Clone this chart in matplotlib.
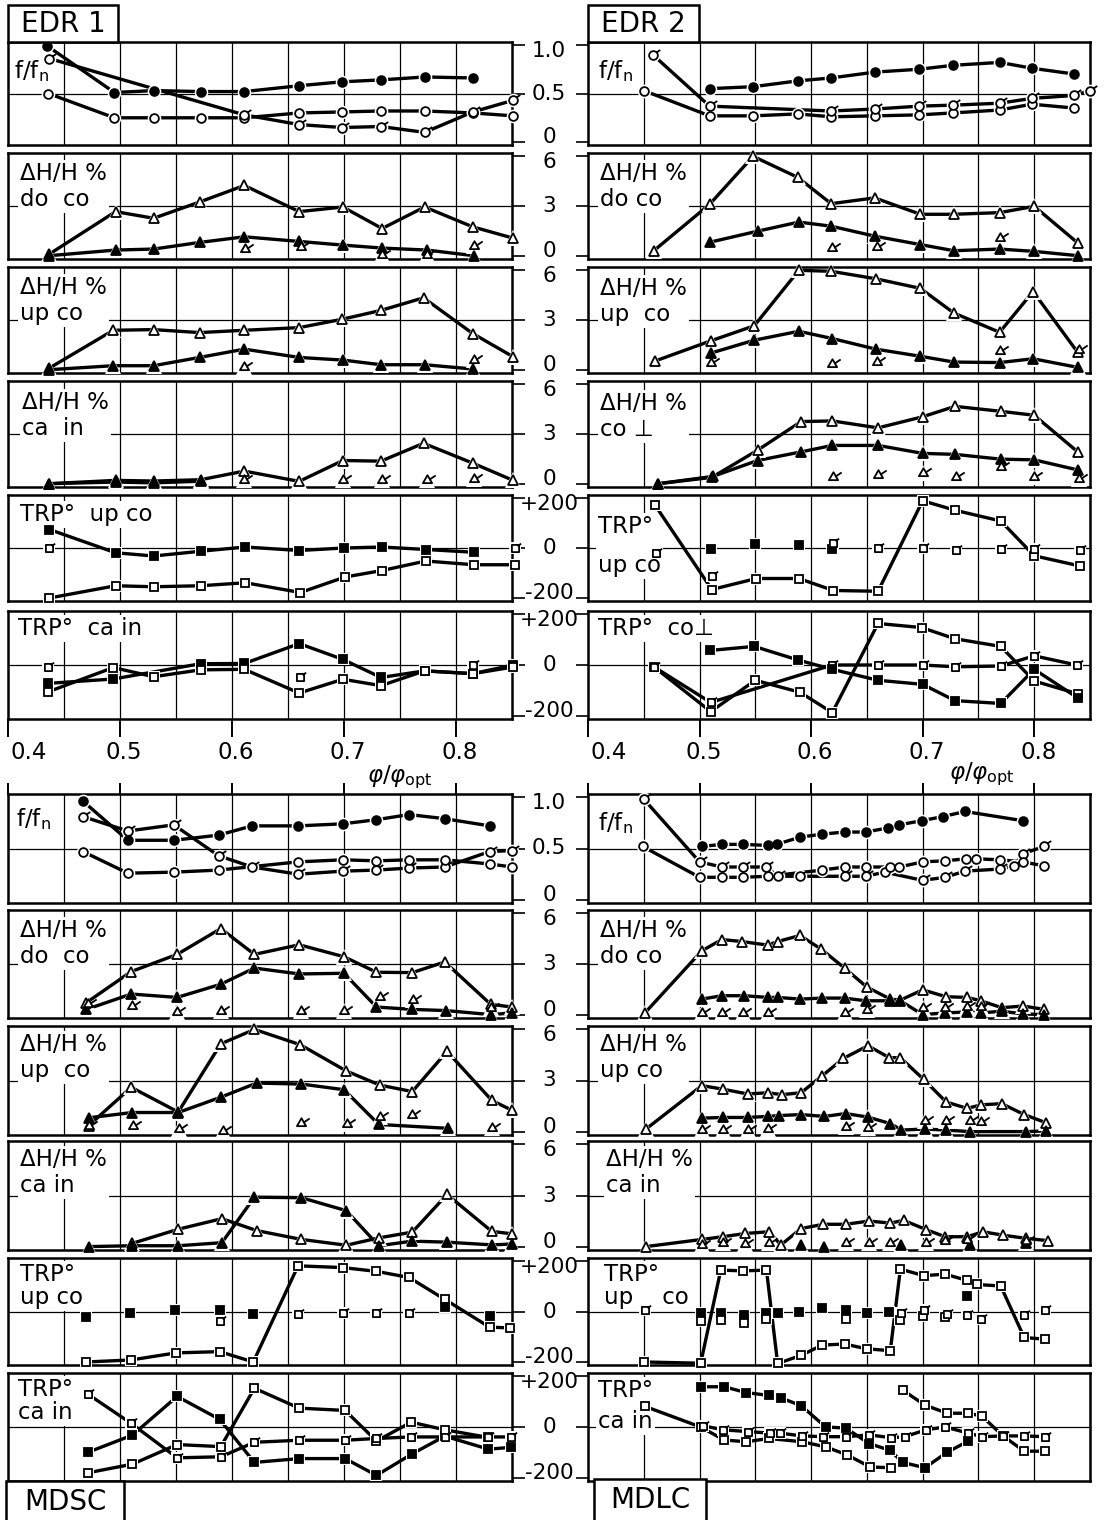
'''
Stacked response panels for EDR 1, EDR 2, MDSC and MDLC versus phi/phi_opt.
'''
import matplotlib
matplotlib.use('Agg')
import matplotlib.pyplot as plt
from matplotlib.path import Path
from matplotlib.patches import Rectangle

# ---------------- data ----------------
# EDR 1
e1_ff_dot_x = [0.435, 0.495, 0.530, 0.572, 0.611, 0.660, 0.698, 0.733, 0.772, 0.815]
e1_ff_dot_y = [0.99, 0.51, 0.53, 0.52, 0.52, 0.58, 0.62, 0.64, 0.67, 0.66]
e1_ff_ring_x = [0.436, 0.495, 0.530, 0.572, 0.611, 0.660, 0.698, 0.733, 0.772, 0.815, 0.851]
e1_ff_ring_y = [0.50, 0.25, 0.25, 0.25, 0.25, 0.30, 0.31, 0.32, 0.32, 0.30, 0.27]
e1_ff_flag_x = [0.437, 0.611, 0.660, 0.698, 0.733, 0.772, 0.815, 0.851]
e1_ff_flag_y = [0.86, 0.28, 0.18, 0.15, 0.16, 0.10, 0.31, 0.43]

e1_do_open_x = [0.437, 0.496, 0.530, 0.571, 0.611, 0.660, 0.699, 0.734, 0.772, 0.815, 0.851]
e1_do_open_y = [0.1, 2.66, 2.26, 3.24, 4.24, 2.66, 2.94, 1.64, 2.94, 1.74, 1.06]
e1_do_full_x = [0.437, 0.496, 0.530, 0.571, 0.611, 0.660, 0.699, 0.734, 0.774, 0.816]
e1_do_full_y = [0.0, 0.34, 0.40, 0.80, 1.14, 0.86, 0.64, 0.46, 0.34, 0.0]
e1_do_flag_x = [0.612, 0.662, 0.734, 0.774, 0.816]
e1_do_flag_y = [0.4, 0.5, 0.06, 0.06, 0.6]

e1_up_open_x = [0.437, 0.494, 0.530, 0.571, 0.611, 0.660, 0.698, 0.733, 0.771, 0.815, 0.851]
e1_up_open_y = [0.1, 2.38, 2.42, 2.24, 2.38, 2.54, 3.04, 3.58, 4.34, 2.18, 0.78]
e1_up_full_x = [0.437, 0.494, 0.530, 0.571, 0.611, 0.660, 0.699, 0.733, 0.772, 0.815]
e1_up_full_y = [0.0, 0.24, 0.24, 0.74, 1.24, 0.74, 0.58, 0.30, 0.30, 0.04]
e1_up_flag_x = [0.611, 0.816]
e1_up_flag_y = [0.14, 0.58]

e1_ca_open_x = [0.437, 0.496, 0.530, 0.572, 0.611, 0.660, 0.699, 0.733, 0.771, 0.815, 0.851]
e1_ca_open_y = [0.0, 0.2, 0.16, 0.24, 0.76, 0.14, 1.4, 1.36, 2.44, 1.24, 0.2]
e1_ca_full_x = [0.437, 0.496, 0.530, 0.572]
e1_ca_full_y = [0.0, 0.1, 0.05, 0.15]
e1_ca_flag_x = [0.611, 0.699, 0.734, 0.774, 0.816]
e1_ca_flag_y = [0.2, 0.25, 0.2, 0.2, 0.3]

e1_tu_full_x = [0.437, 0.496, 0.530, 0.572, 0.612, 0.660, 0.700, 0.734, 0.773, 0.816]
e1_tu_full_y = [74, -19, -32, -13, 4, -10, 0, 4, -6, -17]
e1_tu_open_x = [0.437, 0.496, 0.530, 0.572, 0.612, 0.661, 0.701, 0.734, 0.773, 0.816, 0.853]
e1_tu_open_y = [-200, -151, -155, -151, -139, -178, -116, -90, -52, -67, -67]
e1_tu_flag_x = [0.437, 0.853]
e1_tu_flag_y = [0, 0]

e1_tc_full_x = [0.436, 0.494, 0.572, 0.611, 0.660, 0.699, 0.733, 0.772, 0.815, 0.851]
e1_tc_full_y = [-72, -55, 5, 6, 84, 22, -49, -23, -34, 0]
e1_tc_open_x = [0.436, 0.494, 0.530, 0.572, 0.611, 0.660, 0.699, 0.733, 0.772, 0.815, 0.851]
e1_tc_open_y = [-105, -10, -46, -19, -17, -110, -56, -81, -23, -34, -8]
e1_tc_flag_x = [0.436, 0.661, 0.815]
e1_tc_flag_y = [-6, -49, 0]

# EDR 2
e2_ff_dot_x = [0.509, 0.548, 0.588, 0.618, 0.657, 0.697, 0.727, 0.769, 0.798, 0.836]
e2_ff_dot_y = [0.55, 0.57, 0.63, 0.66, 0.72, 0.75, 0.79, 0.82, 0.76, 0.70]
e2_ff_ring_x = [0.450, 0.509, 0.548, 0.588, 0.618, 0.657, 0.697, 0.727, 0.769, 0.798, 0.836]
e2_ff_ring_y = [0.53, 0.27, 0.27, 0.29, 0.26, 0.27, 0.28, 0.30, 0.33, 0.39, 0.35]
e2_ff_flag_x = [0.458, 0.509, 0.618, 0.657, 0.697, 0.727, 0.769, 0.798, 0.836, 0.850]
e2_ff_flag_y = [0.90, 0.37, 0.32, 0.34, 0.37, 0.38, 0.40, 0.45, 0.48, 0.53]

e2_do_open_x = [0.459, 0.509, 0.548, 0.588, 0.618, 0.657, 0.698, 0.728, 0.769, 0.800, 0.839]
e2_do_open_y = [0.3, 3.1, 6.0, 4.73, 3.14, 3.49, 2.5, 2.5, 2.6, 2.98, 0.77]
e2_do_full_x = [0.509, 0.552, 0.589, 0.618, 0.657, 0.698, 0.728, 0.769, 0.800, 0.839]
e2_do_full_y = [0.81, 1.48, 2.03, 1.78, 1.18, 0.67, 0.30, 0.40, 0.26, 0.0]
e2_do_flag_x = [0.619, 0.659, 0.769]
e2_do_flag_y = [0.45, 0.5, 1.05]

e2_up_open_x = [0.460, 0.510, 0.549, 0.589, 0.618, 0.658, 0.698, 0.728, 0.769, 0.799, 0.839]
e2_up_open_y = [0.52, 1.74, 2.65, 6.0, 5.94, 5.49, 4.91, 3.42, 2.26, 4.72, 1.04]
e2_up_full_x = [0.510, 0.549, 0.589, 0.619, 0.658, 0.698, 0.728, 0.769, 0.799, 0.839]
e2_up_full_y = [1.0, 1.78, 2.32, 1.88, 1.24, 0.81, 0.46, 0.43, 0.66, 0.14]
e2_up_flag_x = [0.510, 0.619, 0.659, 0.769, 0.840]
e2_up_flag_y = [0.43, 0.33, 0.46, 1.1, 1.2]

e2_cp_open_x = [0.463, 0.511, 0.552, 0.591, 0.619, 0.660, 0.700, 0.729, 0.770, 0.800, 0.839]
e2_cp_open_y = [0.0, 0.38, 2.02, 3.75, 3.79, 3.37, 4.04, 4.67, 4.37, 4.13, 1.92]
e2_cp_full_x = [0.463, 0.512, 0.552, 0.591, 0.619, 0.660, 0.700, 0.729, 0.770, 0.800, 0.839]
e2_cp_full_y = [0.0, 0.44, 1.4, 1.92, 2.31, 2.31, 1.83, 1.77, 1.48, 1.44, 0.83]
e2_cp_flag_x = [0.620, 0.660, 0.700, 0.730, 0.770, 0.800, 0.840]
e2_cp_flag_y = [0.38, 0.52, 0.63, 0.42, 1.02, 0.42, 0.29]

e2_tu_open_x = [0.460, 0.511, 0.551, 0.589, 0.620, 0.660, 0.700, 0.729, 0.770, 0.800, 0.841]
e2_tu_open_y = [172, -166, -122, -122, -170, -173, 189, 151, 108, -31, -72]
e2_tu_full_x = [0.510, 0.550, 0.589, 0.619]
e2_tu_full_y = [-4, 16, 14, -4]
e2_tu_flag_x = [0.461, 0.511, 0.620, 0.660, 0.700, 0.730, 0.770, 0.800, 0.841]
e2_tu_flag_y = [-20, -112, 20, 0, 0, -8, -4, -4, -8]

e2_tc_open_x = [0.459, 0.510, 0.550, 0.590, 0.619, 0.660, 0.699, 0.729, 0.770, 0.800, 0.839]
e2_tc_open_y = [-7, -183, -60, -107, -187, 163, 147, 103, 73, -63, -113]
e2_tc_flag_x = [0.459, 0.510, 0.619, 0.660, 0.700, 0.729, 0.770, 0.800, 0.838]
e2_tc_flag_y = [-7, -147, 0, 0, 0, -7, -4, 36, 0]
e2_tc_full_x = [0.509, 0.549, 0.588, 0.619, 0.660, 0.700, 0.729, 0.770, 0.800, 0.839]
e2_tc_full_y = [57, 73, 20, -17, -60, -76, -140, -151, -17, -129]

# MDSC
sc_ff_dot_x = [0.467, 0.507, 0.548, 0.588, 0.618, 0.659, 0.699, 0.729, 0.758, 0.790, 0.830]
sc_ff_dot_y = [0.96, 0.58, 0.58, 0.63, 0.72, 0.72, 0.74, 0.78, 0.83, 0.79, 0.72]
sc_ff_flag_x = [0.467, 0.507, 0.548, 0.588, 0.618, 0.659, 0.699, 0.729, 0.758, 0.790, 0.830, 0.850]
sc_ff_flag_y = [0.81, 0.67, 0.73, 0.43, 0.32, 0.25, 0.28, 0.29, 0.31, 0.32, 0.47, 0.48]
sc_ff_ring_x = [0.467, 0.507, 0.548, 0.588, 0.659, 0.699, 0.729, 0.758, 0.790, 0.830, 0.850]
sc_ff_ring_y = [0.47, 0.26, 0.27, 0.29, 0.37, 0.39, 0.38, 0.39, 0.39, 0.35, 0.32]

sc_do_open_x = [0.470, 0.510, 0.551, 0.590, 0.620, 0.660, 0.700, 0.729, 0.761, 0.790, 0.831, 0.850]
sc_do_open_y = [0.71, 2.55, 3.57, 5.1, 3.57, 4.14, 3.43, 2.51, 2.49, 3.12, 0.61, 0.45]
sc_do_full_x = [0.470, 0.510, 0.551, 0.590, 0.620, 0.660, 0.700, 0.729, 0.761, 0.791, 0.831, 0.850]
sc_do_full_y = [0.31, 1.22, 1.02, 1.8, 2.76, 2.41, 2.45, 0.45, 0.31, 0.24, 0.0, 0.1]
sc_do_flag_x = [0.471, 0.511, 0.551, 0.590, 0.662, 0.700, 0.732, 0.762, 0.831]
sc_do_flag_y = [0.61, 0.51, 0.14, 0.2, 0.2, 0.24, 1.02, 0.86, 0.41]

sc_up_open_x = [0.472, 0.510, 0.552, 0.590, 0.620, 0.661, 0.702, 0.732, 0.761, 0.792, 0.832, 0.850]
sc_up_open_y = [0.35, 2.6, 1.15, 5.15, 6.0, 5.1, 3.56, 2.73, 2.35, 4.71, 1.83, 1.25]
sc_up_full_x = [0.472, 0.511, 0.552, 0.590, 0.622, 0.662, 0.700, 0.731, 0.793]
sc_up_full_y = [0.81, 1.12, 1.12, 2.02, 2.85, 2.79, 2.46, 0.42, 0.19]
sc_up_flag_x = [0.472, 0.512, 0.553, 0.592, 0.662, 0.703, 0.732, 0.761, 0.832]
sc_up_flag_y = [0.35, 0.35, 0.15, 0.04, 0.48, 0.42, 0.87, 0.96, 0.19]

sc_ca_open_x = [0.511, 0.552, 0.591, 0.622, 0.662, 0.702, 0.731, 0.761, 0.792, 0.832, 0.850]
sc_ca_open_y = [0.19, 1.02, 1.64, 0.94, 0.42, 0.08, 0.51, 0.85, 3.06, 0.89, 0.75]
sc_ca_full_x = [0.472, 0.511, 0.552, 0.591, 0.620, 0.662, 0.702, 0.731, 0.761, 0.792, 0.832, 0.850]
sc_ca_full_y = [0.0, 0.05, 0.05, 0.23, 2.9, 2.87, 2.11, 0.05, 0.32, 0.26, 0.1, 0.15]

sc_tu_open_x = [0.470, 0.510, 0.550, 0.589, 0.619, 0.659, 0.699, 0.729, 0.758, 0.790, 0.830, 0.848]
sc_tu_open_y = [-200, -192, -164, -159, -200, 181, 174, 159, 135, 48, -62, -65]
sc_tu_full_x = [0.470, 0.509, 0.549, 0.589, 0.619, 0.790, 0.830]
sc_tu_full_y = [-21, -7, 7, 4, -10, 18, -17]
sc_tu_flag_x = [0.589, 0.659, 0.699, 0.729, 0.758]
sc_tu_flag_y = [-37, -10, -7, -7, -7]

sc_tc_full_x = [0.471, 0.511, 0.551, 0.589, 0.620, 0.660, 0.701, 0.729, 0.761, 0.790, 0.829, 0.849]
sc_tc_full_y = [-100, -32, 120, 30, -139, -124, -124, -190, -105, -36, -87, -80]
sc_tc_open_x = [0.471, 0.511, 0.551, 0.590, 0.620, 0.660, 0.701, 0.729, 0.760, 0.790, 0.829]
sc_tc_open_y = [-180, -146, -69, -77, 152, 74, 65, -55, 19, -11, -41]
sc_tc_flag_x = [0.471, 0.510, 0.551, 0.590, 0.620, 0.660, 0.701, 0.729, 0.760, 0.790, 0.829, 0.849]
sc_tc_flag_y = [130, 14, -121, -117, -60, -52, -52, -45, -39, -39, -39, -39]

# MDLC
lc_ff_dot_x = [0.502, 0.520, 0.539, 0.561, 0.569, 0.590, 0.610, 0.630, 0.649, 0.669, 0.679,
               0.699, 0.718, 0.738, 0.790]
lc_ff_dot_y = [0.52, 0.54, 0.54, 0.53, 0.54, 0.61, 0.64, 0.66, 0.66, 0.70, 0.73,
               0.77, 0.81, 0.86, 0.77]
lc_ff_flag_x = [0.450, 0.500, 0.520, 0.539, 0.560, 0.570, 0.590, 0.630, 0.649, 0.666, 0.700,
                0.720, 0.738, 0.769, 0.782, 0.790, 0.809]
lc_ff_flag_y = [0.98, 0.37, 0.32, 0.32, 0.32, 0.23, 0.23, 0.23, 0.23, 0.27, 0.19,
                0.22, 0.28, 0.30, 0.33, 0.45, 0.52]
lc_ff_ring_x = [0.449, 0.500, 0.520, 0.539, 0.561, 0.610, 0.630, 0.649, 0.671, 0.679, 0.700,
                0.720, 0.739, 0.748, 0.769, 0.790, 0.809]
lc_ff_ring_y = [0.52, 0.22, 0.22, 0.22, 0.23, 0.29, 0.32, 0.32, 0.32, 0.32, 0.37,
                0.38, 0.40, 0.40, 0.39, 0.37, 0.33]

lc_do_open_x = [0.451, 0.502, 0.520, 0.538, 0.561, 0.570, 0.590, 0.609, 0.630, 0.650, 0.671,
                0.680, 0.700, 0.721, 0.740, 0.752, 0.771, 0.790, 0.809]
lc_do_open_y = [0.1, 3.78, 4.45, 4.33, 4.12, 4.33, 4.69, 3.88, 2.76, 1.63, 0.92,
                0.86, 1.47, 1.06, 1.02, 0.82, 0.41, 0.51, 0.31]
lc_do_full_x = [0.502, 0.520, 0.540, 0.561, 0.570, 0.590, 0.610, 0.630, 0.649, 0.671, 0.680,
                0.700, 0.720, 0.740, 0.752, 0.771, 0.790, 0.809]
lc_do_full_y = [0.92, 1.12, 1.12, 1.02, 1.02, 0.92, 0.98, 0.98, 0.82, 0.82, 0.82,
                0.0, 0.1, 0.16, 0.1, 0.2, 0.04, 0.0]
lc_do_flag_x = [0.502, 0.520, 0.539, 0.561, 0.630, 0.650, 0.700, 0.720, 0.740, 0.752]
lc_do_flag_y = [0.1, 0.1, 0.1, 0.1, 0.1, 0.25, 0.4, 0.4, 0.45, 0.45]

lc_up_open_x = [0.452, 0.502, 0.521, 0.543, 0.561, 0.574, 0.591, 0.610, 0.629, 0.651, 0.670,
                0.680, 0.701, 0.721, 0.740, 0.752, 0.771, 0.791, 0.811]
lc_up_open_y = [0.15, 2.7, 2.49, 2.21, 2.28, 2.17, 2.28, 3.28, 4.3, 5.04, 4.34,
                4.34, 3.06, 1.74, 1.36, 1.57, 1.64, 1.0, 0.51]
lc_up_full_x = [0.502, 0.521, 0.543, 0.561, 0.571, 0.591, 0.612, 0.631, 0.651, 0.671, 0.681,
                0.702, 0.721, 0.742, 0.793, 0.811]
lc_up_full_y = [0.79, 0.83, 0.83, 0.89, 0.94, 1.0, 0.89, 1.06, 0.85, 0.47, 0.09,
                0.15, 0.09, 0.0, 0.0, 0.04]
lc_up_flag_x = [0.502, 0.521, 0.543, 0.561, 0.631, 0.651, 0.702, 0.721, 0.742, 0.752]
lc_up_flag_y = [0.1, 0.1, 0.1, 0.15, 0.25, 0.2, 0.6, 0.6, 0.6, 0.55]

lc_ca_open_x = [0.452, 0.502, 0.521, 0.541, 0.562, 0.573, 0.591, 0.611, 0.631, 0.652, 0.671,
                0.683, 0.703, 0.720, 0.740, 0.754, 0.772, 0.793, 0.812]
lc_ca_open_y = [0.0, 0.42, 0.58, 0.77, 0.87, 0.1, 1.06, 1.31, 1.31, 1.5, 1.38,
                1.54, 1.0, 0.58, 0.58, 0.87, 0.67, 0.48, 0.35]
lc_ca_full_x = [0.591, 0.612, 0.681, 0.742, 0.793]
lc_ca_full_y = [0.1, 0.0, 0.1, 0.1, 0.2]
lc_ca_flag_x = [0.502, 0.521, 0.541, 0.562, 0.631, 0.652, 0.671, 0.703, 0.720, 0.740, 0.793]
lc_ca_flag_y = [0.1, 0.2, 0.15, 0.2, 0.2, 0.2, 0.2, 0.2, 0.3, 0.4, 0.3]

lc_tu_open_x = [0.450, 0.501, 0.519, 0.539, 0.560, 0.570, 0.591, 0.610, 0.630, 0.650, 0.671,
                0.680, 0.701, 0.720, 0.740, 0.749, 0.770, 0.791, 0.810]
lc_tu_open_y = [-200, -205, 164, 161, 164, -206, -174, -133, -129, -148, -155,
                168, 142, 148, 123, 107, 101, -103, -110]
lc_tu_full_x = [0.501, 0.519, 0.540, 0.560, 0.570, 0.589, 0.610, 0.631, 0.650, 0.670, 0.740]
lc_tu_full_y = [-6, -6, -13, -4, -4, 0, 13, 4, -4, 0, 60]
lc_tu_sq_x = [0.501, 0.519, 0.540, 0.560, 0.631, 0.680, 0.700, 0.720]
lc_tu_sq_y = [-39, -32, -45, -30, -30, -32, -17, -22]
lc_tu_flag_x = [0.451, 0.681, 0.701, 0.722, 0.740, 0.752, 0.791, 0.810]
lc_tu_flag_y = [6, -6, 6, -9, -13, -30, -13, 4]

lc_tc_full_x = [0.501, 0.522, 0.542, 0.562, 0.573, 0.591, 0.613, 0.631, 0.652, 0.671, 0.682,
                0.702, 0.722, 0.741]
lc_tc_full_y = [158, 158, 135, 124, 114, 84, 0, -4, -65, -92, -139, -160, -99, -55]
lc_tc_low_x = [0.451, 0.501, 0.522, 0.542, 0.562, 0.592, 0.613, 0.632, 0.653, 0.672]
lc_tc_low_y = [81, 0, -51, -58, -45, -58, -78, -109, -157, -160]
lc_tc_high_x = [0.682, 0.702, 0.722, 0.741, 0.753, 0.772, 0.791, 0.810]
lc_tc_high_y = [145, 86, 54, 54, 43, -35, -95, -95]
lc_tc_flag_x = [0.503, 0.521, 0.543, 0.563, 0.572, 0.592, 0.611, 0.631, 0.652, 0.672, 0.684,
                0.703, 0.720, 0.741, 0.753, 0.772, 0.791, 0.810]
lc_tc_flag_y = [5, -11, -18, -24, -24, -35, -38, -38, -31, -42, -38,
                -11, 0, -24, -38, -35, -35, -38]

x_tick_values = [0.4, 0.5, 0.6, 0.7, 0.8]
x_tick_labels = ['0.4', '0.5', '0.6', '0.7', '0.8']

# ---------------- drawing ----------------
W, H = 1105, 1520
FS = 16.5
TICK_FS = 15.5


def flagged(base, start, end):
    flag = Path([start, end], [Path.MOVETO, Path.LINETO])
    return Path.make_compound_path(base, flag)


SQUARE = Path([(-1, -1), (1, -1), (1, 1), (-1, 1), (-1, -1)],
              [Path.MOVETO, Path.LINETO, Path.LINETO, Path.LINETO, Path.CLOSEPOLY])
FLAGS = {'o': flagged(Path.unit_circle(), (0.7, 0.7), (1.55, 1.25)),
         '^': flagged(Path.unit_regular_polygon(3), (0.35, 0.15), (1.55, 0.95)),
         's': flagged(SQUARE, (0.6, 0.6), (1.55, 1.35))}
BASE_MS = {'o': 6.3, '^': 7.6, 's': 5.2}


def draw(ax, x, y, shape, fill, line=True):
    ms = BASE_MS[shape]
    if line:
        ax.plot(x, y, color='k', lw=2.4, zorder=3, clip_on=False, solid_capstyle='butt')
    # white halo so that lines stop short of the symbols
    ax.plot(x, y, ls='none', marker=shape, ms=ms + 3.5, mfc='w', mec='w', mew=0,
            zorder=3.3, clip_on=False)
    if fill == 'x':
        ax.plot(x, y, ls='none', marker=FLAGS[shape], ms=ms * 1.55, mfc='w', mec='k',
                mew=1.3, zorder=3.5, clip_on=False)
    else:
        ax.plot(x, y, ls='none', marker=shape, ms=ms, mfc='k' if fill == 'f' else 'w',
                mec='k', mew=1.3, zorder=3.5, clip_on=False)


def px_axes(x0, x1, y0, y1):
    return fig.add_axes([x0 / W, 1 - y1 / H, (x1 - x0) / W, (y1 - y0) / H])


KINDS = {'ff': ((-0.03, 1.03), [0, 0.5, 1.0], ['0', '0.5', '1.0'], 0.5),
         'dh': ((-0.2, 6.2), [0, 3, 6], ['0', '3', '6'], 3),
         'trp': ((-212, 212), [-200, 0, 200], ['-200', '0', '+200'], 0)}
ROW_KINDS = ['ff', 'dh', 'dh', 'dh', 'trp', 'trp']
ROWS_TOP = [(42, 145), (153, 259), (267, 373), (381, 487), (495, 601), (611, 719)]
ROWS_BOT = [(794, 903), (910, 1018), (1026, 1135), (1141, 1250), (1258, 1365), (1373, 1481)]
COL_L = (8, 512)
COL_R = (588, 1090)

fig = plt.figure(figsize=(W / 100, H / 100), dpi=100)


def make_block(col, rows, side, labels, series, xticks_where):
    for i, (y0, y1) in enumerate(rows):
        ax = px_axes(col[0], col[1], y0, y1)
        lim, ticks, tlabels, mid = KINDS[ROW_KINDS[i]]
        ax.set_xlim(0.4, 0.85)
        ax.set_ylim(*lim)
        for gx in [0.45, 0.5, 0.55, 0.6, 0.65, 0.7, 0.75, 0.8]:
            ax.axvline(gx, color='k', lw=0.9, zorder=1)
        ax.axhline(mid, color='k', lw=0.9, zorder=1)
        for s in ax.spines.values():
            s.set_linewidth(1.8)
        ax.set_yticks(ticks)
        ax.set_yticklabels([])
        if side == 'right':
            ax.tick_params(axis='y', direction='out', length=9, width=1.2,
                           left=False, right=True, labelleft=False)
        else:
            ax.tick_params(axis='y', direction='out', length=9, width=1.2,
                           left=True, right=False, labelleft=False)
        ax.set_xticks(x_tick_values)
        ax.set_xticklabels([])
        if xticks_where == 'bottom' and i == len(rows) - 1:
            ax.tick_params(axis='x', direction='out', length=13, width=1.4,
                           bottom=True, top=False)
        elif xticks_where == 'top' and i == 0:
            ax.tick_params(axis='x', direction='out', length=8, width=1.4,
                           bottom=False, top=True)
        else:
            ax.tick_params(axis='x', bottom=False, top=False)
        text, dx, dy, lsp = labels[i]
        w = col[1] - col[0]
        h = y1 - y0
        ax.text(dx / w, 1 - dy / h, text, transform=ax.transAxes, ha='left', va='top',
                fontsize=FS, linespacing=lsp, zorder=2,
                bbox=dict(facecolor='w', edgecolor='none', pad=1.5))
        for x, y, shape, fill, line in series[i]:
            draw(ax, x, y, shape, fill, line)


def tick_labels_middle(rows):
    # y tick labels shared by the left and right blocks, in the middle column
    for i, (y0, y1) in enumerate(rows):
        lim, ticks, tlabels, mid = KINDS[ROW_KINDS[i]]
        for t, lab in zip(ticks, tlabels):
            ypx = y0 + (lim[1] - t) / (lim[1] - lim[0]) * (y1 - y0)
            if t == ticks[0]:
                ypx -= 5
            elif t == ticks[-1]:
                ypx += 6
            fig.text(549 / W, 1 - ypx / H, lab, ha='center', va='center', fontsize=TICK_FS)


FF = r'f/f$_{\rm n}$'

edr1_labels = [(FF, 6, 16, 1.0), ('ΔH/H %\ndo  co', 12, 9, 1.15), ('ΔH/H %\nup co', 12, 9, 1.15),
               ('ΔH/H %\nca  in', 14, 10, 1.15), ('TRP°  up co', 12, 8, 1.0),
               ('TRP°  ca in', 10, 6, 1.0)]
edr1_series = [
    [(e1_ff_dot_x, e1_ff_dot_y, 'o', 'f', True), (e1_ff_ring_x, e1_ff_ring_y, 'o', 'o', True),
     (e1_ff_flag_x, e1_ff_flag_y, 'o', 'x', True)],
    [(e1_do_open_x, e1_do_open_y, '^', 'o', True), (e1_do_full_x, e1_do_full_y, '^', 'f', True),
     (e1_do_flag_x, e1_do_flag_y, '^', 'x', False)],
    [(e1_up_open_x, e1_up_open_y, '^', 'o', True), (e1_up_full_x, e1_up_full_y, '^', 'f', True),
     (e1_up_flag_x, e1_up_flag_y, '^', 'x', False)],
    [(e1_ca_open_x, e1_ca_open_y, '^', 'o', True), (e1_ca_full_x, e1_ca_full_y, '^', 'f', True),
     (e1_ca_flag_x, e1_ca_flag_y, '^', 'x', False)],
    [(e1_tu_full_x, e1_tu_full_y, 's', 'f', True), (e1_tu_open_x, e1_tu_open_y, 's', 'o', True),
     (e1_tu_flag_x, e1_tu_flag_y, 's', 'x', False)],
    [(e1_tc_full_x, e1_tc_full_y, 's', 'f', True), (e1_tc_open_x, e1_tc_open_y, 's', 'o', True),
     (e1_tc_flag_x, e1_tc_flag_y, 's', 'x', False)],
]

edr2_labels = [(FF, 10, 16, 1.0), ('ΔH/H %\ndo co', 12, 9, 1.15), ('ΔH/H %\nup  co', 12, 10, 1.15),
               ('ΔH/H %\nco ⊥', 12, 11, 1.15), ('TRP°\nup co', 10, 20, 1.9),
               ('TRP°  co⊥', 10, 6, 1.0)]
edr2_series = [
    [(e2_ff_dot_x, e2_ff_dot_y, 'o', 'f', True), (e2_ff_ring_x, e2_ff_ring_y, 'o', 'o', True),
     (e2_ff_flag_x, e2_ff_flag_y, 'o', 'x', True)],
    [(e2_do_open_x, e2_do_open_y, '^', 'o', True), (e2_do_full_x, e2_do_full_y, '^', 'f', True),
     (e2_do_flag_x, e2_do_flag_y, '^', 'x', False)],
    [(e2_up_open_x, e2_up_open_y, '^', 'o', True), (e2_up_full_x, e2_up_full_y, '^', 'f', True),
     (e2_up_flag_x, e2_up_flag_y, '^', 'x', False)],
    [(e2_cp_open_x, e2_cp_open_y, '^', 'o', True), (e2_cp_full_x, e2_cp_full_y, '^', 'f', True),
     (e2_cp_flag_x, e2_cp_flag_y, '^', 'x', False)],
    [(e2_tu_open_x, e2_tu_open_y, 's', 'o', True), (e2_tu_full_x, e2_tu_full_y, 's', 'f', False),
     (e2_tu_flag_x, e2_tu_flag_y, 's', 'x', False)],
    [(e2_tc_open_x, e2_tc_open_y, 's', 'o', True), (e2_tc_flag_x, e2_tc_flag_y, 's', 'x', True),
     (e2_tc_full_x, e2_tc_full_y, 's', 'f', True)],
]

mdsc_labels = [(FF, 8, 12, 1.0), ('ΔH/H %\ndo  co', 12, 9, 1.15), ('ΔH/H %\nup  co', 12, 7, 1.15),
               ('ΔH/H %\nca in', 12, 7, 1.15), ('TRP°\nup co', 12, 5, 1.0),
               ('TRP°\nca in', 10, 5, 1.0)]
mdsc_series = [
    [(sc_ff_dot_x, sc_ff_dot_y, 'o', 'f', True), (sc_ff_flag_x, sc_ff_flag_y, 'o', 'x', True),
     (sc_ff_ring_x, sc_ff_ring_y, 'o', 'o', True)],
    [(sc_do_open_x, sc_do_open_y, '^', 'o', True), (sc_do_full_x, sc_do_full_y, '^', 'f', True),
     (sc_do_flag_x, sc_do_flag_y, '^', 'x', False)],
    [(sc_up_open_x, sc_up_open_y, '^', 'o', True), (sc_up_full_x, sc_up_full_y, '^', 'f', True),
     (sc_up_flag_x, sc_up_flag_y, '^', 'x', False)],
    [(sc_ca_open_x, sc_ca_open_y, '^', 'o', True), (sc_ca_full_x, sc_ca_full_y, '^', 'f', True)],
    [(sc_tu_open_x, sc_tu_open_y, 's', 'o', True), (sc_tu_full_x, sc_tu_full_y, 's', 'f', False),
     (sc_tu_flag_x, sc_tu_flag_y, 's', 'x', False)],
    [(sc_tc_full_x, sc_tc_full_y, 's', 'f', True), (sc_tc_open_x, sc_tc_open_y, 's', 'o', True),
     (sc_tc_flag_x, sc_tc_flag_y, 's', 'x', True)],
]

mdlc_labels = [(FF, 10, 16, 1.0), ('ΔH/H %\ndo co', 12, 9, 1.15), ('ΔH/H %\nup co', 12, 7, 1.15),
               ('ΔH/H %\nca in', 18, 7, 1.15), ('TRP°\nup    co', 16, 5, 1.0),
               ('TRP°\nca in', 10, 6, 1.45)]
mdlc_series = [
    [(lc_ff_dot_x, lc_ff_dot_y, 'o', 'f', True), (lc_ff_flag_x, lc_ff_flag_y, 'o', 'x', True),
     (lc_ff_ring_x, lc_ff_ring_y, 'o', 'o', True)],
    [(lc_do_open_x, lc_do_open_y, '^', 'o', True), (lc_do_full_x, lc_do_full_y, '^', 'f', True),
     (lc_do_flag_x, lc_do_flag_y, '^', 'x', False)],
    [(lc_up_open_x, lc_up_open_y, '^', 'o', True), (lc_up_full_x, lc_up_full_y, '^', 'f', True),
     (lc_up_flag_x, lc_up_flag_y, '^', 'x', False)],
    [(lc_ca_open_x, lc_ca_open_y, '^', 'o', True), (lc_ca_full_x, lc_ca_full_y, '^', 'f', False),
     (lc_ca_flag_x, lc_ca_flag_y, '^', 'x', False)],
    [(lc_tu_open_x, lc_tu_open_y, 's', 'o', True), (lc_tu_full_x, lc_tu_full_y, 's', 'f', False),
     (lc_tu_sq_x, lc_tu_sq_y, 's', 'o', False), (lc_tu_flag_x, lc_tu_flag_y, 's', 'x', False)],
    [(lc_tc_full_x, lc_tc_full_y, 's', 'f', True), (lc_tc_low_x, lc_tc_low_y, 's', 'o', True),
     (lc_tc_high_x, lc_tc_high_y, 's', 'o', True), (lc_tc_flag_x, lc_tc_flag_y, 's', 'x', True)],
]

make_block(COL_L, ROWS_TOP, 'right', edr1_labels, edr1_series, 'bottom')
make_block(COL_R, ROWS_TOP, 'left', edr2_labels, edr2_series, 'bottom')
make_block(COL_L, ROWS_BOT, 'right', mdsc_labels, mdsc_series, 'top')
make_block(COL_R, ROWS_BOT, 'left', mdlc_labels, mdlc_series, 'top')
tick_labels_middle(ROWS_TOP)
tick_labels_middle(ROWS_BOT)

# x tick labels between the two halves
for x0, x1 in (COL_L, COL_R):
    for v, lab in zip(x_tick_values, x_tick_labels):
        px = x0 + (v - 0.4) / 0.45 * (x1 - x0)
        if v == 0.4:
            fig.text((px + 2) / W, 1 - 753 / H, lab, ha='left', va='center', fontsize=FS)
        else:
            fig.text((px + 4) / W, 1 - 753 / H, lab, ha='center', va='center', fontsize=FS)
fig.text(400 / W, 1 - 777 / H, r'$\varphi/\varphi_{\rm opt}$', ha='center', va='center', fontsize=FS)
fig.text(982 / W, 1 - 774 / H, r'$\varphi/\varphi_{\rm opt}$', ha='center', va='center', fontsize=FS)

# name boxes
for name, x0, x1, y0, y1 in [('EDR 1', 8, 118, 5, 42), ('EDR 2', 588, 699, 5, 42),
                             ('MDSC', 6, 124, 1481, 1522), ('MDLC', 594, 706, 1479, 1522)]:
    fig.patches.append(Rectangle((x0 / W, 1 - y1 / H), (x1 - x0) / W, (y1 - y0) / H,
                                 transform=fig.transFigure, facecolor='w', edgecolor='k',
                                 lw=1.8, zorder=5))
    fig.text((x0 + x1) / 2 / W, 1 - (y0 + y1) / 2 / H, name, ha='center', va='center',
             fontsize=20, zorder=6)

fig.savefig('out.png', dpi=100)
